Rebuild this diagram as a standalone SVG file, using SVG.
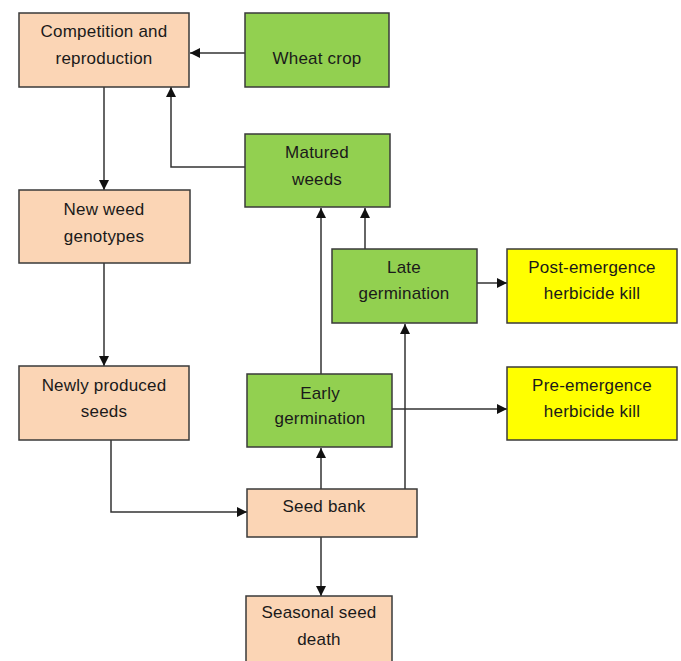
<svg xmlns="http://www.w3.org/2000/svg" width="681" height="661" viewBox="0 0 681 661">
<style>
.peach{fill:#FBD5B5;stroke:#3a3a3a;stroke-width:1.5}
.green{fill:#92D050;stroke:#3a3a3a;stroke-width:1.5}
.yellow{fill:#FFFF00;stroke:#3a3a3a;stroke-width:1.5}
text{font-family:"Liberation Sans",Arial,sans-serif;font-size:17px;letter-spacing:0.2px;fill:#1a1a1a;text-anchor:middle}
.conn path{fill:none;stroke:#333;stroke-width:1.5}
</style>
<defs>
<marker id="arr" viewBox="0 0 10 10" refX="10" refY="5" markerWidth="10" markerHeight="10" markerUnits="userSpaceOnUse" orient="auto">
<path d="M0,0 L10,5 L0,10 z" fill="#111"/>
</marker>
</defs>
<rect width="681" height="661" fill="#fff"/>
<g class="conn">
<path d="M245,53 H190" marker-end="url(#arr)"/>
<path d="M245,167 H171 V87" marker-end="url(#arr)"/>
<path d="M104,87 V190" marker-end="url(#arr)"/>
<path d="M104,263 V366" marker-end="url(#arr)"/>
<path d="M111,440 V512 H247" marker-end="url(#arr)"/>
<path d="M321,489 V448" marker-end="url(#arr)"/>
<path d="M405,489 V324" marker-end="url(#arr)"/>
<path d="M321,537 V596" marker-end="url(#arr)"/>
<path d="M321,374 V208" marker-end="url(#arr)"/>
<path d="M365,249 V208" marker-end="url(#arr)"/>
<path d="M477,283 H507" marker-end="url(#arr)"/>
<path d="M392,409 H507" marker-end="url(#arr)"/>
</g>
<g id="competition"><rect class="peach" x="19" y="13" width="170" height="74"/><text x="104" y="37">Competition and</text><text x="104" y="64">reproduction</text></g>
<g id="wheat"><rect class="green" x="245" y="13" width="144" height="74"/><text x="317" y="64">Wheat crop</text></g>
<g id="matured"><rect class="green" x="245" y="134" width="145" height="73"/><text x="317" y="158">Matured</text><text x="317" y="185">weeds</text></g>
<g id="newweed"><rect class="peach" x="19" y="190" width="171" height="73"/><text x="104" y="215">New weed</text><text x="104" y="242">genotypes</text></g>
<g id="late"><rect class="green" x="332" y="249" width="145" height="74"/><text x="404" y="273">Late</text><text x="404" y="299">germination</text></g>
<g id="post"><rect class="yellow" x="507" y="249" width="170" height="74"/><text x="592" y="273">Post-emergence</text><text x="592" y="299">herbicide kill</text></g>
<g id="newseeds"><rect class="peach" x="19" y="366" width="170" height="74"/><text x="104" y="391">Newly produced</text><text x="104" y="417">seeds</text></g>
<g id="early"><rect class="green" x="247" y="374" width="145" height="73"/><text x="320" y="399">Early</text><text x="320" y="424">germination</text></g>
<g id="pre"><rect class="yellow" x="507" y="367" width="170" height="73"/><text x="592" y="391">Pre-emergence</text><text x="592" y="417">herbicide kill</text></g>
<g id="seedbank"><rect class="peach" x="247" y="489" width="170" height="48"/><text x="324" y="512">Seed bank</text></g>
<g id="seasonal"><rect class="peach" x="246" y="596" width="146" height="70"/><text x="319" y="618">Seasonal seed</text><text x="319" y="645">death</text></g>
</svg>
